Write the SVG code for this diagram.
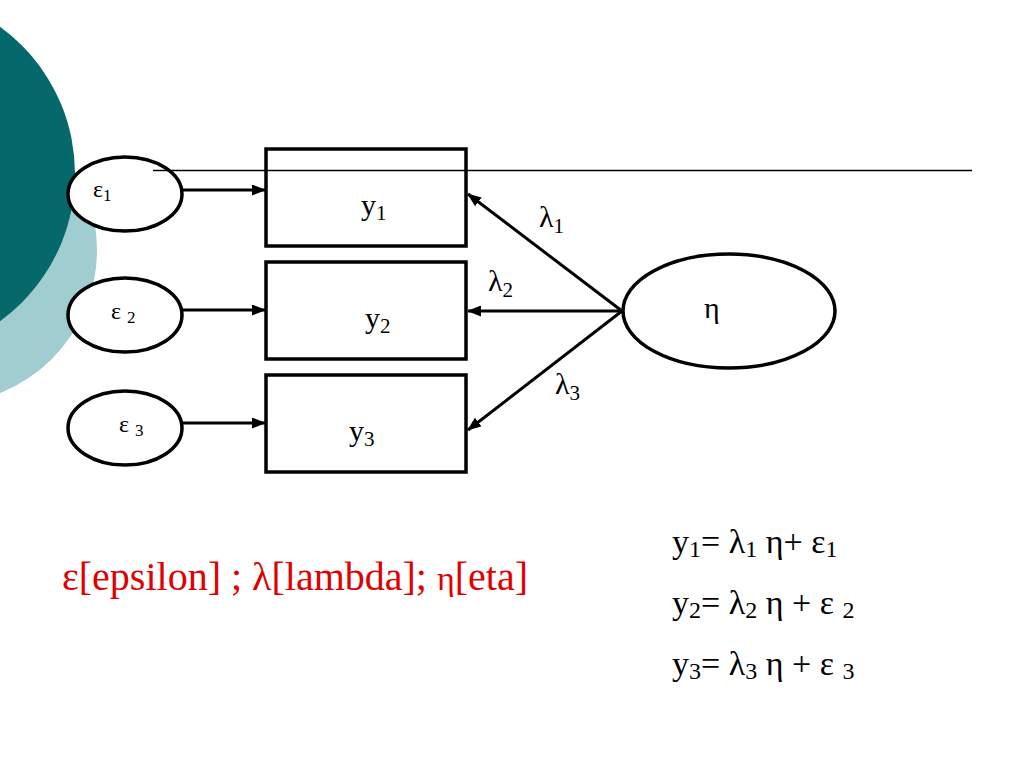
<svg xmlns="http://www.w3.org/2000/svg" width="1024" height="768" viewBox="0 0 1024 768">
<defs>
<marker id="ah" markerWidth="14" markerHeight="11" refX="13" refY="5.5" orient="auto" markerUnits="userSpaceOnUse">
<path d="M0,0 L14,5.5 L0,11 z" fill="#000"/>
</marker>
<style>
.t{font-family:"Liberation Serif","Times New Roman",serif;fill:#000}
.n{fill:#fff;stroke:#000;stroke-width:3.5}
.c{stroke:#000;stroke-width:3;fill:none;marker-end:url(#ah)}
</style>
</defs>
<rect width="1024" height="768" fill="#fff"/>
<circle cx="-57" cy="250" r="154" fill="#A0CDD0"/>
<circle cx="-107" cy="174" r="182" fill="#05686A"/>
<g id="connectors">
<line class="c" x1="183" y1="190" x2="265" y2="190"/>
<line class="c" x1="183" y1="310" x2="265" y2="310"/>
<line class="c" x1="183" y1="423" x2="265" y2="423"/>
<line class="c" x1="622" y1="311" x2="468" y2="194"/>
<line class="c" x1="622" y1="311" x2="468" y2="311"/>
<line class="c" x1="622" y1="311" x2="468" y2="430"/>
</g>
<g id="e1"><ellipse class="n" cx="125" cy="194" rx="57" ry="37"/><text class="t" x="93" y="197" font-size="24">ε<tspan font-size="17" dy="4">1</tspan></text></g>
<g id="e2"><ellipse class="n" cx="125" cy="315" rx="57" ry="37"/><text class="t" x="111" y="319" font-size="24">ε <tspan font-size="17" dy="4">2</tspan></text></g>
<g id="e3"><ellipse class="n" cx="125" cy="428" rx="57" ry="37"/><text class="t" x="119" y="432" font-size="24">ε <tspan font-size="17" dy="4">3</tspan></text></g>
<g id="y1"><rect class="n" x="266" y="149" width="200" height="97"/><text class="t" x="361" y="215" font-size="30">y<tspan font-size="21" dy="5">1</tspan></text></g>
<g id="y2"><rect class="n" x="266" y="262" width="200" height="97"/><text class="t" x="365" y="328" font-size="30">y<tspan font-size="21" dy="5">2</tspan></text></g>
<g id="y3"><rect class="n" x="266" y="375" width="200" height="97"/><text class="t" x="349" y="441" font-size="30">y<tspan font-size="21" dy="5">3</tspan></text></g>
<g id="eta"><ellipse class="n" cx="729" cy="311" rx="106" ry="57"/><text class="t" x="704" y="318" font-size="30">η</text></g>
<line x1="153" y1="170.5" x2="972" y2="170.5" stroke="#000" stroke-width="1.3"/>
<text class="t" x="539" y="227" font-size="30">λ<tspan font-size="21" dy="6">1</tspan></text>
<text class="t" x="488" y="291" font-size="30">λ<tspan font-size="21" dy="6">2</tspan></text>
<text class="t" x="555" y="394" font-size="30">λ<tspan font-size="21" dy="6">3</tspan></text>
<text class="t" x="62" y="590" font-size="40" style="fill:#E00000">ε[epsilon] ; λ[lambda]; <tspan font-size="34">η</tspan>[eta]</text>
<text class="t" x="672" y="553" font-size="34">y<tspan font-size="24" dy="4">1</tspan><tspan dy="-4">= λ</tspan><tspan font-size="24" dy="4">1</tspan><tspan dy="-4"> η+ ε</tspan><tspan font-size="24" dy="4">1</tspan></text>
<text class="t" x="672" y="614" font-size="34">y<tspan font-size="24" dy="4">2</tspan><tspan dy="-4">= λ</tspan><tspan font-size="24" dy="4">2</tspan><tspan dy="-4"> η + ε </tspan><tspan font-size="24" dy="4">2</tspan></text>
<text class="t" x="672" y="675" font-size="34">y<tspan font-size="24" dy="4">3</tspan><tspan dy="-4">= λ</tspan><tspan font-size="24" dy="4">3</tspan><tspan dy="-4"> η + ε </tspan><tspan font-size="24" dy="4">3</tspan></text>
</svg>
